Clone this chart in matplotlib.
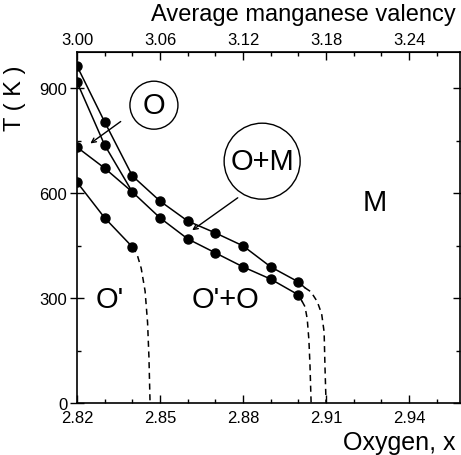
import numpy as np
import matplotlib.pyplot as plt
from matplotlib.patches import Ellipse
from matplotlib.ticker import MultipleLocator, FixedLocator

plt.rcParams['font.family'] = ['Liberation Sans', 'DejaVu Sans']

# oxygen content of the measured points
x_pts = [2.82, 2.83, 2.84, 2.85, 2.86, 2.87, 2.88, 2.89, 2.90]
# O+M / M boundary
T_a = [963, 803, 649, 577, 520, 486, 449, 389, 346]
# O / O+M boundary
T_b = [917, 737, 603, 529, 469, 429, 389, 354, 309]
# O / O'+O boundary (joins the O/O+M line)
x_c = [2.82, 2.83, 2.84]
T_c = [731, 671, 603]
# O' / O'+O boundary
x_d = [2.82, 2.83, 2.84]
T_d = [631, 529, 446]

# dashed extrapolations
xa_dash = [2.9024, 2.9045, 2.9068, 2.9084, 2.9093, 2.9096, 2.9100]
Ta_dash = [329, 318, 290, 255, 203, 106, 0]
xb_dash = [2.9013, 2.9024, 2.9032, 2.9038, 2.9042, 2.9046]
Tb_dash = [291, 275, 240, 180, 106, 0]
xd_dash = [2.8400, 2.8417, 2.8432, 2.8446, 2.8455, 2.8460, 2.8464]
Td_dash = [446, 425, 385, 320, 230, 130, 0]

fig = plt.figure(figsize=(4.61, 4.56), dpi=100)
ax = fig.add_axes([77/461, 52/456, 383/461, 351/456])

lw = 1.1
ax.plot(x_pts + [2.9024], T_a + [329], color='black', lw=lw)
ax.plot(x_pts + [2.9013], T_b + [291], color='black', lw=lw)
ax.plot(x_c, T_c, color='black', lw=lw)
ax.plot(x_d, T_d, color='black', lw=lw)
for xx, tt in [(xa_dash, Ta_dash), (xb_dash, Tb_dash), (xd_dash, Td_dash)]:
    ax.plot(xx, tt, color='black', lw=lw, linestyle=(0, (4, 3)))

ax.plot(x_pts, T_a, 'o', color='black', ms=6.5)
ax.plot(x_pts, T_b, 'o', color='black', ms=6.5)
ax.plot(x_c[:2], T_c[:2], 'o', color='black', ms=6.5)
ax.plot(x_d, T_d, 'o', color='black', ms=6.5)

ax.set_xlim(2.82, 2.9584)
ax.set_ylim(0, 1003)

# phase labels
fs = 21
ax.text(2.832, 297, "O'", fontsize=fs, ha='center', va='center')
ax.text(2.8735, 297, "O'+O", fontsize=fs, ha='center', va='center')
ax.text(2.9277, 574, "M", fontsize=fs, ha='center', va='center')

# circled labels (circular in pixels: 2766.7 px per unit x, 0.35 px per K)
ax.text(2.8478, 851, "O", fontsize=fs, ha='center', va='center')
ax.add_patch(Ellipse((2.8478, 851), 48/2766.7, 48/0.35, fill=False, lw=1.0))
ax.text(2.8869, 691, "O+M", fontsize=fs, ha='center', va='center')
ax.add_patch(Ellipse((2.8869, 691), 76/2766.7, 76/0.35, fill=False, lw=1.0))

ax.annotate('', xy=(2.824, 737), xytext=(2.8366, 809),
            arrowprops=dict(arrowstyle='->', lw=1.0, mutation_scale=8))
ax.annotate('', xy=(2.8608, 489), xytext=(2.8789, 591),
            arrowprops=dict(arrowstyle='->', lw=1.0, mutation_scale=8))

# ticks
ax.xaxis.set_major_locator(FixedLocator([2.82, 2.85, 2.88, 2.91, 2.94]))
ax.xaxis.set_major_formatter(plt.FuncFormatter(lambda v, p: f"{v:.2f}"))
ax.xaxis.set_minor_locator(MultipleLocator(0.01))
ax.yaxis.set_major_locator(MultipleLocator(300))
ax.yaxis.set_minor_locator(MultipleLocator(150))
ax.tick_params(axis='x', which='major', direction='in', length=6, width=1, labelsize=12, pad=5)
ax.tick_params(axis='x', which='minor', direction='in', length=3, width=1)
ax.tick_params(axis='y', which='major', direction='inout', length=10, width=1, labelsize=12,
               right=True, pad=2)
ax.tick_params(axis='y', which='minor', direction='in', length=3, width=1, right=True)
for s in ax.spines.values():
    s.set_linewidth(1.2)

top = ax.secondary_xaxis('top', functions=(lambda x: 3 + 2*(x - 2.82),
                                           lambda v: 2.82 + (v - 3)/2))
top.xaxis.set_major_locator(FixedLocator([3.00, 3.06, 3.12, 3.18, 3.24]))
top.xaxis.set_major_formatter(plt.FuncFormatter(lambda v, p: f"{v:.2f}"))
top.xaxis.set_minor_locator(MultipleLocator(0.02))
top.tick_params(which='major', direction='in', length=6, width=1, labelsize=12)
top.tick_params(which='minor', direction='in', length=3, width=1)

fig.text(455/461, 1 - 443/456, "Oxygen, x", fontsize=18, ha='right', va='center')
fig.text(303/461, 1 - 15/456, "Average manganese valency", fontsize=17, ha='center', va='center')
fig.text(15/461, 1 - 98/456, "T ( K )", fontsize=17, rotation=90, ha='center', va='center')

fig.savefig('out.png', dpi=100)
